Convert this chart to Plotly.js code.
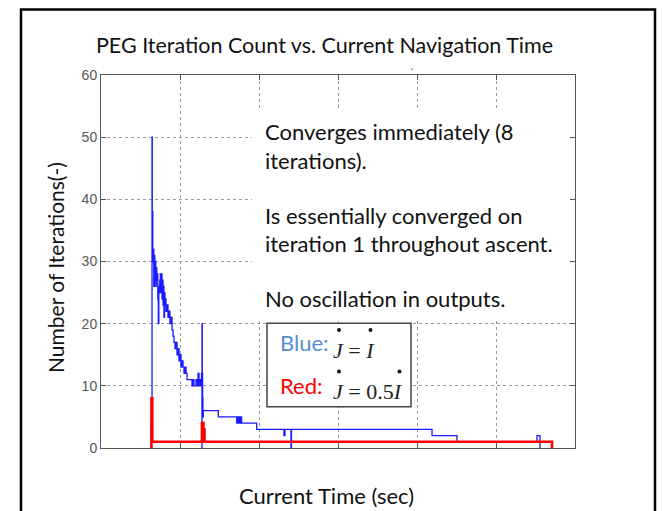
<!DOCTYPE html>
<html>
<head>
<meta charset="utf-8">
<script src="https://cdn.plot.ly/plotly-3.0.1.min.js"></script>
<style>html,body{margin:0;padding:0;background:#fff;}#chart{width:663px;height:511px;}</style>
</head>
<body>
<div id="chart"></div>
<script>
// Blue series: J-dot = I-dot
var blueTime = [63.3,63.7,64.6,64.9,65.6,66.2,66.8,67.5,68.1,68.7,69.4,70.0,70.6,71.3,71.9,72.5,73.2,73.8,74.4,75.1,75.9,76.6,77.2,77.8,78.5,79.1,79.7,80.4,81.0,81.6,82.3,83.5,84.8,86.1,87.3,88.6,89.9,91.1,92.4,93.7,94.9,96.2,97.5,98.7,100.0,101.3,102.5,103.8,105.1,106.3,107.6,108.9,115.2,116.5,117.7,120.3,121.5,122.8,124.1,125.3,126.6,127.2,127.8,127.9,128.2,128.6,129.0,129.5,148.5,171.8,172.5,173.2,174.0,174.8,175.6,176.4,177.2,178.0,197.1,231.6,232.9,240.5,241.1,419.0,450.6,551.9,555.7];
var blueIter = [0,4,50,38,30,32,26,31,27,30,26,29,27,28,24,20,26,25,27,28,25,28,24,27,23,26,21,25,23,24,22,23,21,22,20,21,19,18,17,16,17,15,16,14,15,13,14,13,12,13,12,11,10,11,10,11,10,12,10,11,10,12,0,20,12,8,5,6,5,4,5,4,5,4,5,4,5,4,3,2,3,0,3,2,1,2,0];
// Red series: J-dot = 0.5 I-dot
var redTime = [63.3,63.9,64.9,127.8,128.5,129.1,129.7,130.4,131.0,568.4,570.9];
var redIter = [0,8,1,4,2,4,1.5,3,1,1,0];
// Axis ticks
var yTicks = [0,10,20,30,40,50,60];
var yTickText = ["0","10","20","30","40","50","60"];
var xTicks = [0,100,200,300,400,500,600];

var titleText = "PEG Iteration Count vs. Current Navigation Time";
var xTitle = "Current Time (sec)";
var yTitle = "Number of Iterations(-)";
var noteLines = ["Converges immediately (8", "iterations).", "Is essentially converged on", "iteration 1 throughout ascent.", "No oscillation in outputs."];

var txtFont = "Lato, 'Open Sans', sans-serif";

var traces = [
  {x: blueTime, y: blueIter, type: "scatter", mode: "lines", line: {shape: "hv", color: "#1a1aff", width: 1.3}, hoverinfo: "skip", showlegend: false},
  {x: redTime, y: redIter, type: "scatter", mode: "lines", line: {shape: "hv", color: "#ff0000", width: 2.6}, hoverinfo: "skip", showlegend: false}
];

// px -> data helpers for annotation placement (plot area 101..575 x, 75..448 y)
function dx(px){ return (px - 101) * 600 / 474; }
function dy(py){ return (448 - py) * 60 / 373; }
function px2paperX(px){ return (px - 101) / 474; }
function px2paperY(py){ return (448 - py) / 373; }

var noteY = [131.5, 160, 215, 243.5, 298];
var annotations = noteLines.map(function(t, i){
  return {x: dx(263), y: dy(noteY[i]), xref: "x", yref: "y", xanchor: "left", yanchor: "middle", text: t, showarrow: false, font: {family: txtFont, size: 22, color: "#111"}};
});
annotations.push(
  {x: dx(278), y: dy(342.5), xref: "x", yref: "y", xanchor: "left", yanchor: "middle", text: "Blue:", showarrow: false, font: {family: txtFont, size: 22, color: "#558ed5"}},
  {x: dx(278), y: dy(385.5), xref: "x", yref: "y", xanchor: "left", yanchor: "middle", text: "Red:", showarrow: false, font: {family: txtFont, size: 22, color: "#ff0000"}},
  {x: dx(331), y: dy(350), xref: "x", yref: "y", xanchor: "left", yanchor: "middle", text: "<i>J</i> = <i>I</i>", showarrow: false, font: {family: "'Liberation Serif', serif", size: 22, color: "#222"}},
  {x: dx(331), y: dy(391), xref: "x", yref: "y", xanchor: "left", yanchor: "middle", text: "<i>J</i> = 0.5<i>I</i>", showarrow: false, font: {family: "'Liberation Serif', serif", size: 22, color: "#222"}},
  {x: px2paperX(326.5), y: px2paperY(495), xref: "paper", yref: "paper", xanchor: "center", yanchor: "middle", text: xTitle, showarrow: false, font: {family: txtFont, size: 22, color: "#111"}},
  {x: px2paperX(55), y: px2paperY(268), xref: "paper", yref: "paper", xanchor: "center", yanchor: "middle", textangle: -90, text: yTitle, showarrow: false, font: {family: txtFont, size: 21, color: "#111"}},
  {x: px2paperX(412), y: px2paperY(64), xref: "paper", yref: "paper", text: "ˇ", showarrow: false, font: {family: txtFont, size: 10, color: "#777"}}
);

// derivative dots above J and I (drawn as small filled circles)
function dotShape(cx, cy){
  return {type: "circle", xref: "x", yref: "y", x0: dx(cx - 2), x1: dx(cx + 2), y0: dy(cy + 2), y1: dy(cy - 2), fillcolor: "#111", line: {width: 0}, layer: "above"};
}

var shapes = [
  // white background behind the notes
  {type: "rect", xref: "x", yref: "y", x0: dx(252), x1: dx(574), y0: dy(320), y1: dy(110), fillcolor: "#ffffff", line: {width: 0}, layer: "between"},
  // legend box
  {type: "rect", xref: "x", yref: "y", x0: dx(267), x1: dx(411), y0: dy(406.7), y1: dy(323.3), fillcolor: "#ffffff", line: {color: "#444", width: 1.5}, layer: "between"},
  dotShape(339, 330), dotShape(370.5, 330), dotShape(339, 371.5), dotShape(399.5, 371.5),
  // outer frame
  {type: "rect", xref: "paper", yref: "paper", x0: px2paperX(21), x1: px2paperX(655), y0: px2paperY(530), y1: px2paperY(9.5), line: {color: "#000", width: 2.5}, fillcolor: "rgba(0,0,0,0)", layer: "above"}
];

var axisCommon = {
  showline: true, linecolor: "#555", linewidth: 1, mirror: "ticks",
  ticks: "inside", ticklen: 5, tickcolor: "#555", tickwidth: 1,
  showgrid: true, gridcolor: "#9a9a9a", gridwidth: 1, griddash: "dot", zeroline: false, fixedrange: true
};

var layout = {
  width: 663, height: 511,
  margin: {l: 101, r: 88, t: 75, b: 63, pad: 0},
  paper_bgcolor: "#ffffff", plot_bgcolor: "#ffffff",
  title: {text: titleText, font: {family: txtFont, size: 21.5, color: "#111"}, xref: "container", yref: "container", x: 324.5 / 663, xanchor: "center", y: 1 - 45 / 511, yanchor: "middle"},
  xaxis: Object.assign({}, axisCommon, {range: [0, 600], tickvals: xTicks, showticklabels: false}),
  yaxis: Object.assign({}, axisCommon, {range: [0, 60], tickvals: yTicks, ticktext: yTickText,
    tickfont: {family: "'Liberation Sans Narrow', 'Liberation Sans', Arial, sans-serif", size: 14, color: "#555"}}),
  annotations: annotations,
  shapes: shapes,
  showlegend: false
};

Plotly.newPlot("chart", traces, layout, {staticPlot: true, displayModeBar: false});
</script>
</body>
</html>
